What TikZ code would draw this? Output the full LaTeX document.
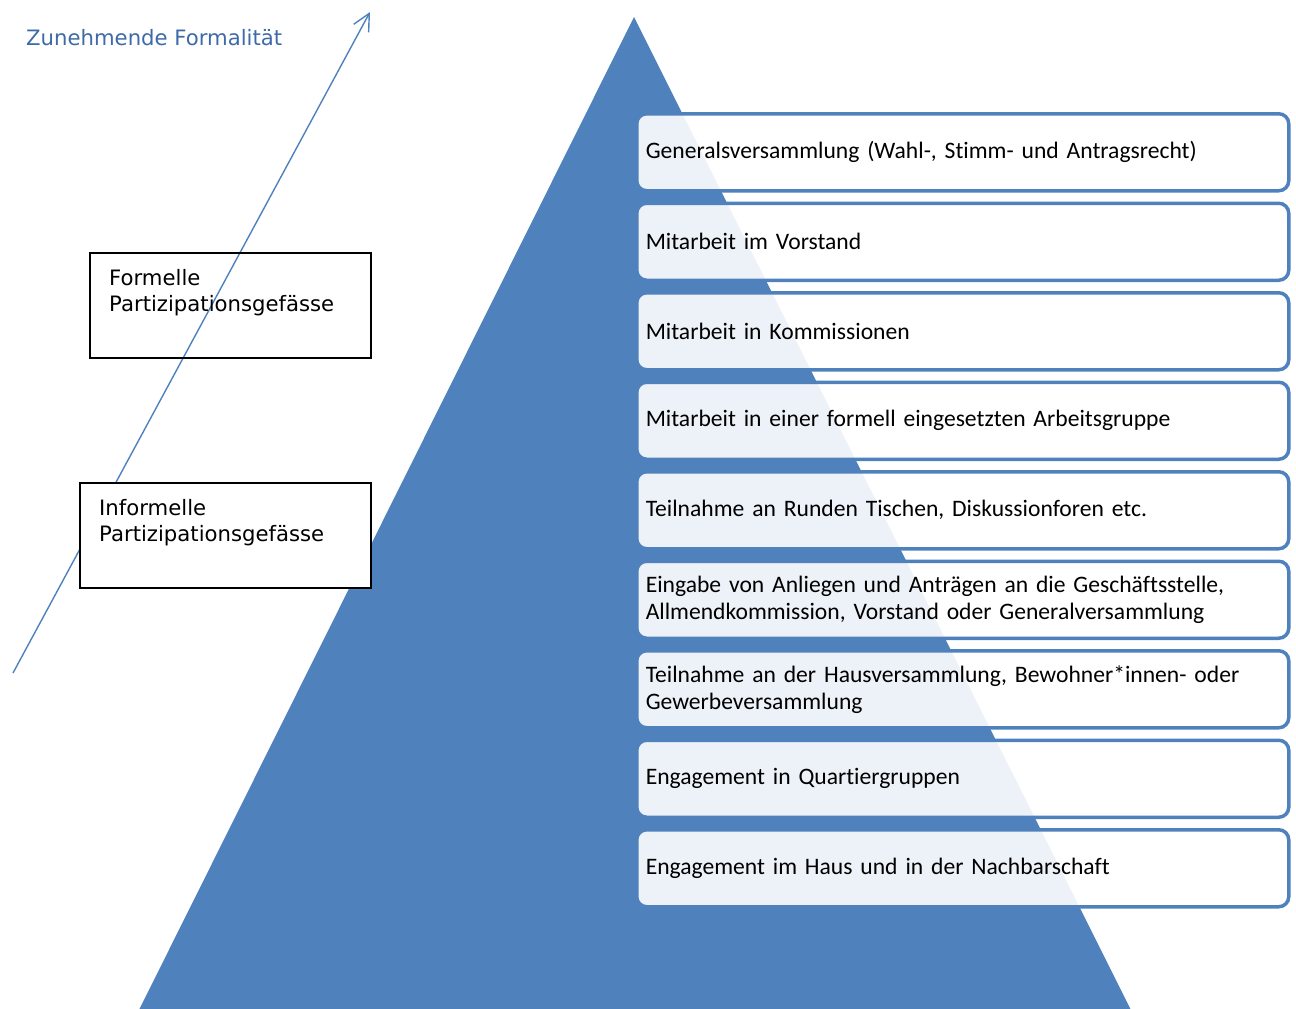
\documentclass[tikz,border=0pt]{standalone}
\usepackage{fontspec}
\setmainfont{Carlito}[Ligatures={NoCommon}]
\newfontfamily\verd{DejaVu Sans}
\usetikzlibrary{arrows.meta,calc}
\definecolor{triblue}{HTML}{4F81BD}
\definecolor{titleblue}{RGB}{62,106,168}
\begin{document}
\begin{tikzpicture}[x=1pt,y=-1pt,
  pbox/.style={draw=triblue, line width=3.5pt, fill=white, fill opacity=0.9, text opacity=1,
    rounded corners=10pt, minimum width=652pt, minimum height=77pt, text width=634pt,
    inner xsep=9pt, inner ysep=0pt, align=left, anchor=north west,
    font=\fontsize{23.6}{27}\selectfont},
  leftbox/.style={draw=black, line width=1.8pt, rectangle, inner sep=0pt, anchor=north west},
  lefttext/.style={font=\verd\fontsize{21.2}{26}\selectfont, align=left, anchor=north west, inner sep=0pt},
  arrowline/.style={draw=triblue, line width=1.4pt, -{Straight Barb[length=17pt, width=17pt]}},
  titletext/.style={font=\verd\fontsize{21.2}{26}\selectfont, text=titleblue, anchor=base west, inner sep=0pt}
]
\useasboundingbox (0,0) rectangle (1296,1009);
% pyramid
\fill[triblue] (634,17) -- (124,1040) -- (1146,1040) -- cycle;
% arrow
\coordinate (aS) at (13,673);
\coordinate (aE) at (370,12);
\draw[arrowline] (aS) -- (aE);
\node[titletext] (title) at (26,45) {Zunehmende Formalität};
% left boxes
\node[leftbox, minimum width=281pt, minimum height=105pt] (formbox) at (89,252) {};
\node[lefttext] (formtext) at (109,269) {Formelle\\Partizipationsgefässe};
\node[leftbox, fill=white, minimum width=291pt, minimum height=105pt] (infbox) at (79,482) {};
\node[lefttext] (inftext) at (99,499) {Informelle\\Partizipationsgefässe};
% right list
\node[pbox] (b1) at (635,112) {Generalsversammlung (Wahl-, Stimm- und Antragsrecht)};
\node[pbox] (b2) at (635,201.5) {Mitarbeit im Vorstand};
\node[pbox] (b3) at (635,291) {Mitarbeit in Kommissionen};
\node[pbox] (b4) at (635,380.5) {Mitarbeit in einer formell eingesetzten Arbeitsgruppe};
\node[pbox] (b5) at (635,470) {Teilnahme an Runden Tischen, Diskussionforen etc.};
\node[pbox] (b6) at (635,559.5) {Eingabe von Anliegen und Anträgen an die Geschäftsstelle,\\Allmendkommission, Vorstand oder Generalversammlung};
\node[pbox] (b7) at (635,649) {Teilnahme an der Hausversammlung, Bewohner*innen- oder\\Gewerbeversammlung};
\node[pbox] (b8) at (635,738.5) {Engagement in Quartiergruppen};
\node[pbox] (b9) at (635,828) {Engagement im Haus und in der Nachbarschaft};
\end{tikzpicture}
\end{document}
